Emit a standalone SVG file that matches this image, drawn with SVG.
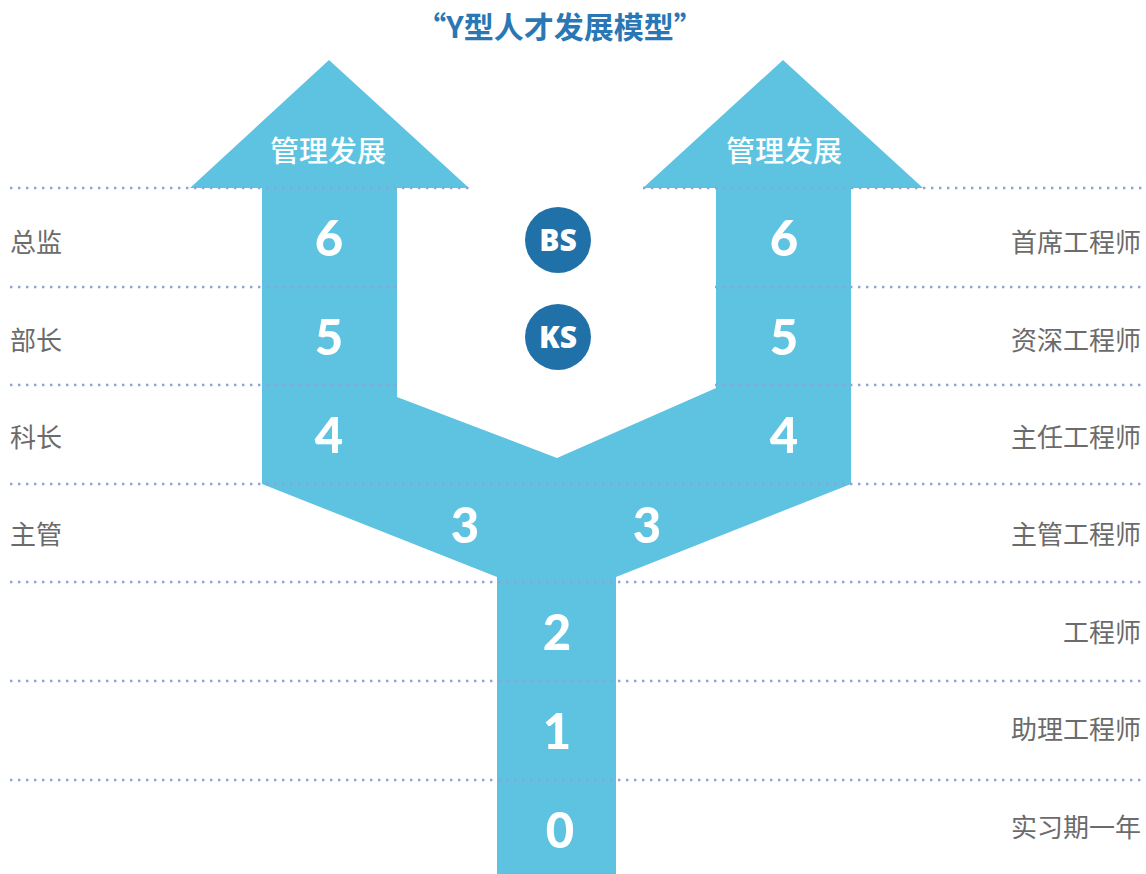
<svg xmlns="http://www.w3.org/2000/svg" width="1146" height="874" viewBox="0 0 1146 874">
<style>
.grid{stroke:#8aa4d6;stroke-width:2.4;stroke-dasharray:2.4 5.6;fill:none}
.num{font-family:Lato,"Open Sans",sans-serif;font-weight:900;font-size:49px;fill:#fff;text-anchor:middle}
.lab{font-family:"Noto Sans CJK SC","Noto Sans",sans-serif;font-size:26px;fill:#6b6b6b}
.head{font-family:"Noto Sans CJK SC",sans-serif;font-size:29px;fill:#fff;text-anchor:middle;font-weight:500}
.badge{fill:#2171a9}
.btxt{font-family:"Open Sans",Lato,sans-serif;font-weight:800;font-size:30px;fill:#fff;text-anchor:middle}
</style>
<rect width="1146" height="874" fill="#fff"/>
<text x="560" y="38" font-family="'Noto Sans CJK SC',sans-serif" font-size="30" font-weight="700" fill="#2a77b5" text-anchor="middle">“Y型人才发展模型”</text>
<g id="shape">
<path d="M190 188 L329 60 L469 188 L397 188 L397 397 L557 458 L716 388 L716 188 L643 188 L783 60 L923 188 L851 188 L851 484 L616 577 L616 874 L497 874 L497 577 L262 484 L262 188 Z" fill="#5ec3e1"/>
</g>
<g id="grid">
<line class="grid" x1="10" y1="188" x2="470" y2="188"/>
<line class="grid" x1="643" y1="188" x2="1142" y2="188"/>
<line class="grid" x1="10" y1="287" x2="1142" y2="287"/>
<line class="grid" x1="10" y1="385" x2="1142" y2="385"/>
<line class="grid" x1="10" y1="484" x2="1142" y2="484"/>
<line class="grid" x1="10" y1="582" x2="1142" y2="582"/>
<line class="grid" x1="10" y1="681" x2="1142" y2="681"/>
<line class="grid" x1="10" y1="780" x2="1142" y2="780"/>
</g>
<path d="M398 190 L715 190 L715 388 L557 457 L398 396 Z" fill="#fff"/>
<g id="arrow-left-head"><text class="head" x="328" y="162">管理发展</text></g>
<g id="arrow-right-head"><text class="head" x="784" y="162">管理发展</text></g>
<g id="levels">
<text class="num" x="329" y="256">6</text>
<text class="num" x="329" y="355">5</text>
<text class="num" x="329" y="453">4</text>
<text class="num" x="784" y="256">6</text>
<text class="num" x="784" y="355">5</text>
<text class="num" x="784" y="453">4</text>
<text class="num" x="465" y="543">3</text>
<text class="num" x="647" y="543">3</text>
<text class="num" x="557" y="650">2</text>
<text class="num" x="557" y="749">1</text>
<text class="num" x="560" y="848">0</text>
</g>
<g id="bs"><circle class="badge" cx="558" cy="240" r="33"/><text class="btxt" x="558" y="251">BS</text></g>
<g id="ks"><circle class="badge" cx="558" cy="337" r="33"/><text class="btxt" x="558" y="348">KS</text></g>
<g id="left-labels">
<text class="lab" x="10" y="252">总监</text>
<text class="lab" x="10" y="350">部长</text>
<text class="lab" x="10" y="447">科长</text>
<text class="lab" x="10" y="544">主管</text>
</g>
<g id="right-labels" text-anchor="end">
<text class="lab" x="1141" y="252">首席工程师</text>
<text class="lab" x="1141" y="350">资深工程师</text>
<text class="lab" x="1141" y="447">主任工程师</text>
<text class="lab" x="1141" y="544">主管工程师</text>
<text class="lab" x="1141" y="642">工程师</text>
<text class="lab" x="1141" y="739">助理工程师</text>
<text class="lab" x="1141" y="837">实习期一年</text>
</g>
</svg>
